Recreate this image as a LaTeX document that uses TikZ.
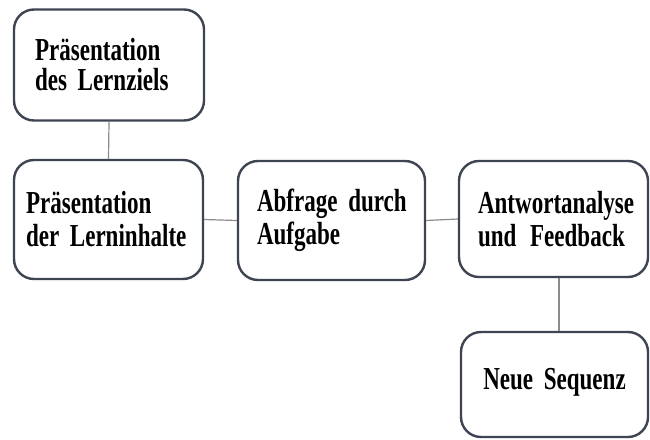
\documentclass[tikz,border=0pt]{standalone}
\usepackage{fontspec}
\setmainfont{Liberation Serif}[FakeStretch=0.72]
\definecolor{boxline}{HTML}{3F4452}
\definecolor{conn}{HTML}{8C8C90}
\protected\def\myboxfont#1{\bfseries\fontsize{32}{#1}\selectfont\spaceskip=6pt\relax}
\begin{document}
\begin{tikzpicture}[x=1pt,y=-1pt,
  box/.style={draw=boxline, line width=2.4pt, rounded corners=20pt, fill=white,
    align=left, font=\myboxfont{33}, inner ysep=0pt},
  conline/.style={draw=conn, line width=1.2pt}]
\useasboundingbox[fill=white] (0,0) rectangle (650,439);
\node[box, minimum width=190pt, minimum height=111pt, text width=148pt, inner xsep=21pt,
  font=\myboxfont{30}] (b1) at (109,65) {\mbox{Präsentation}\\\mbox{des Lernziels}};
\node[box, minimum width=189pt, minimum height=119pt, text width=165pt, inner xsep=12pt] (b2) at (108.5,219.5) {\mbox{Präsentation}\\\mbox{der Lerninhalte}};
\node[box, minimum width=187pt, minimum height=119pt, text width=149pt, inner xsep=19pt] (b3) at (331.5,220.5) {\mbox{Abfrage durch}\\\mbox{Aufgabe}};
\node[box, minimum width=189pt, minimum height=116pt, text width=151pt, inner xsep=19pt] (b4) at (553.5,219) {\mbox{Antwortanalyse}\\\mbox{und\hspace{3pt} Feedback}};
\node[box, minimum width=187pt, minimum height=105pt, align=center, text width=160pt, inner xsep=13pt] (b5) at (554.5,384.5) {\raisebox{12pt}{\mbox{Neue Sequenz}}};
\draw[conline] (b1.south) -- (b2.north);
\draw[conline] (b2.east) -- (b3.west);
\draw[conline] (b3.east) -- (b4.west);
\draw[conline] (b4.south -| 559,0) -- (b5.north -| 559,0);
\end{tikzpicture}
\end{document}
